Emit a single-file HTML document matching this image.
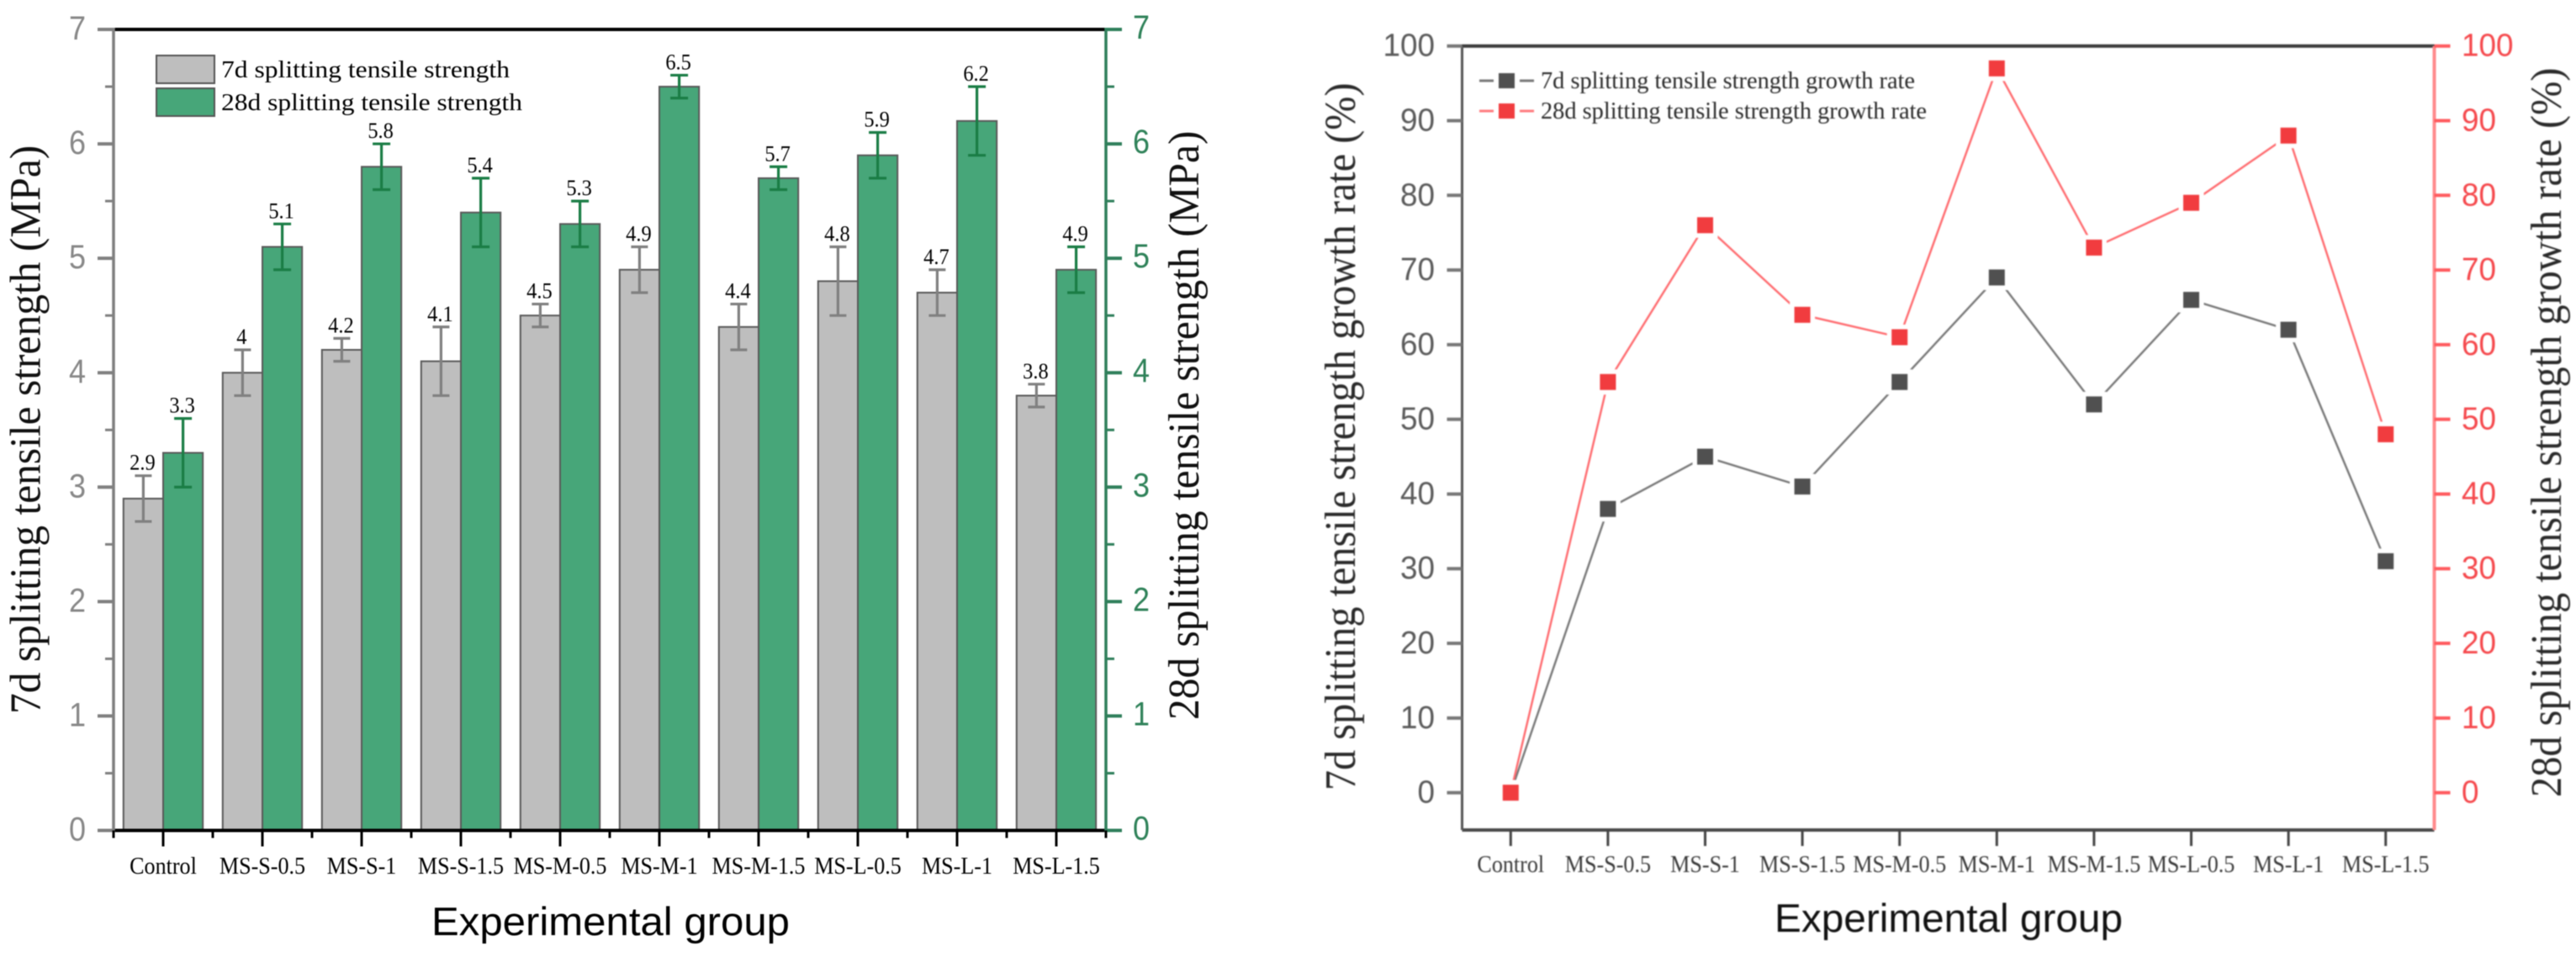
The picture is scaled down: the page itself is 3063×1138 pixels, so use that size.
<!DOCTYPE html>
<html lang="en">
<head>
<meta charset="utf-8">
<title>Splitting tensile strength charts</title>
<style>
html,body{margin:0;padding:0;background:#fff;width:3063px;height:1138px;overflow:hidden}
svg{display:block}
.serif{font-family:"Liberation Serif",serif}
.sans{font-family:"Liberation Sans",sans-serif}
</style>
</head>
<body>
<svg id="figure" xmlns="http://www.w3.org/2000/svg" width="3063" height="1138" viewBox="0 0 3063 1138">
  <rect width="3063" height="1138" fill="#fff"/>
  <g id="left-chart" style="filter:blur(0.4px)">
    <g id="left-bars"></g>
    <g id="left-axes"></g>
    <text class="serif" transform="translate(47.5,849) rotate(-90) scale(0.952,1)" font-size="52" fill="#111">7d splitting tensile strength (MPa)</text>
    <text class="serif" transform="translate(1425,856) rotate(-90) scale(0.951,1)" font-size="52" fill="#111">28d splitting tensile strength (MPa)</text>
    <text class="sans" x="513" y="1112" font-size="47" fill="#000" textLength="426" lengthAdjust="spacingAndGlyphs">Experimental group</text>
    <g>
      <rect x="186" y="66" width="69" height="33" fill="#bebebe" stroke="#555" stroke-width="2"/>
      <text class="serif" x="263" y="92" font-size="28" fill="#000" textLength="343" lengthAdjust="spacingAndGlyphs">7d splitting tensile strength</text>
      <rect x="186" y="105" width="69" height="33" fill="#47a679" stroke="#555" stroke-width="2"/>
      <text class="serif" x="263" y="131" font-size="28" fill="#000" textLength="358" lengthAdjust="spacingAndGlyphs">28d splitting tensile strength</text>
    </g>
  </g>
  <g id="right-chart" style="filter:blur(0.8px)">
    <g id="right-axes"></g>
    <g id="right-marks"></g>
    <text class="serif" transform="translate(1611,940) rotate(-90) scale(0.928,1)" font-size="52" fill="#2a2a2a">7d splitting tensile strength growth rate (%)</text>
    <text class="serif" transform="translate(3045,948) rotate(-90) scale(0.93,1)" font-size="52" fill="#2a2a2a">28d splitting tensile strength growth rate (%)</text>
    <text class="sans" x="2110" y="1108" font-size="47" fill="#111" textLength="414" lengthAdjust="spacingAndGlyphs">Experimental group</text>
    <g>
      <line x1="1759" y1="96" x2="1824" y2="96" stroke="#777" stroke-width="3"/>
      <rect x="1776" y="84" width="31" height="24" fill="#fff"/>
      <rect x="1782" y="87" width="19" height="18" fill="#505050"/>
      <text class="serif" x="1832" y="105" font-size="28" fill="#2a2a2a" textLength="445" lengthAdjust="spacingAndGlyphs">7d splitting tensile strength growth rate</text>
      <line x1="1759" y1="132" x2="1824" y2="132" stroke="#ff7a7d" stroke-width="3"/>
      <rect x="1776" y="120" width="31" height="24" fill="#fff"/>
      <rect x="1782" y="123" width="19" height="18" fill="#f13c3f"/>
      <text class="serif" x="1832" y="141" font-size="28" fill="#2a2a2a" textLength="459" lengthAdjust="spacingAndGlyphs">28d splitting tensile strength growth rate</text>
    </g>
  </g>
</svg>
<script>
const categories = ['Control','MS-S-0.5','MS-S-1','MS-S-1.5','MS-M-0.5','MS-M-1','MS-M-1.5','MS-L-0.5','MS-L-1','MS-L-1.5'];
const strength7d = [2.9,4,4.2,4.1,4.5,4.9,4.4,4.8,4.7,3.8];
const strength28d = [3.3,5.1,5.8,5.4,5.3,6.5,5.7,5.9,6.2,4.9];
const error7d = [0.2,0.2,0.1,0.3,0.1,0.2,0.2,0.3,0.2,0.1];
const error28d = [0.3,0.2,0.2,0.3,0.2,0.1,0.1,0.2,0.3,0.2];
const growth7d = [0,38,45,41,55,69,52,66,62,31];
const growth28d = [0,55,76,64,61,97,73,79,88,48];
const strengthTicks = [0,1,2,3,4,5,6,7];
const strengthMinorTicks = [0.5,1.5,2.5,3.5,4.5,5.5,6.5];
const growthTicks = [0,10,20,30,40,50,60,70,80,90,100];

const NS = 'http://www.w3.org/2000/svg';
function make(parent, tag, attrs, content) {
  const el = document.createElementNS(NS, tag);
  for (const k in attrs) el.setAttribute(k, attrs[k]);
  if (content !== undefined) el.textContent = content;
  parent.appendChild(el);
  return el;
}
function label(parent, x, y, str, size, fill, cls, anchor, sx) {
  return make(parent, 'text', {
    class: cls, 'font-size': size, fill: fill, 'text-anchor': anchor,
    transform: 'translate(' + x + ',' + y + ') scale(' + sx + ',1)'
  }, str);
}

/* ---------- left chart: bars ---------- */
const L = {left: 135, right: 1315, top: 35, bottom: 987.5};
const lx = i => L.left + (i + 0.5) * (L.right - L.left) / categories.length;
const ly = v => L.bottom - (v / 7) * (L.bottom - L.top);
const lBand = (L.right - L.left) / categories.length;
const barW = lBand * 0.4;
const lBars = document.getElementById('left-bars');
const lAxes = document.getElementById('left-axes');

function drawBar(i, v, err, offset, fill, errColor, capW) {
  const x0 = lx(i) + offset;
  const rect = make(lBars, 'rect', {x: x0, y: ly(v), width: barW, height: L.bottom - ly(v), fill: fill, stroke: '#5a5a5a', 'stroke-width': 2});
  
  
  const cx = x0 + barW / 2;
  const errGroup = make(lBars, 'g', {stroke: errColor, 'stroke-width': 3.2});
  
  
  make(errGroup, 'line', {x1: cx, x2: cx, y1: ly(v + err), y2: ly(v - err)});
  make(errGroup, 'line', {x1: cx - capW / 2, x2: cx + capW / 2, y1: ly(v + err), y2: ly(v + err)});
  make(errGroup, 'line', {x1: cx - capW / 2, x2: cx + capW / 2, y1: ly(v - err), y2: ly(v - err)});
  const value = label(lBars, cx - 1, ly(v + err) - 7, String(v), 26, '#000', 'serif', 'middle', 0.94);
  
  
}
categories.forEach((c, i) => {
  drawBar(i, strength7d[i], error7d[i], -barW, '#bebebe', '#808080', 20);
});
categories.forEach((c, i) => {
  drawBar(i, strength28d[i], error28d[i], 0, '#47a679', '#1a7d45', 21);
});

const lTop = make(lAxes, 'line', {x1: L.left, x2: L.right, y1: L.top, y2: L.top, stroke: '#000', 'stroke-width': 4});


const lBottom = make(lAxes, 'line', {x1: L.left, x2: L.right, y1: L.bottom, y2: L.bottom, stroke: '#000', 'stroke-width': 4});


const lLeft = make(lAxes, 'line', {x1: L.left, x2: L.left, y1: L.top - 2, y2: L.bottom + 2, stroke: '#808080', 'stroke-width': 3.5});


const lRight = make(lAxes, 'line', {x1: L.right, x2: L.right, y1: L.top - 2, y2: L.bottom + 2, stroke: '#2f7f5b', 'stroke-width': 3.5});



strengthTicks.forEach(t => {
  const tl = make(lAxes, 'line', {x1: L.left - 19, x2: L.left, y1: ly(t), y2: ly(t), stroke: '#808080', 'stroke-width': 4});
  
  
  const tr = make(lAxes, 'line', {x1: L.right, x2: L.right + 19, y1: ly(t), y2: ly(t), stroke: '#2f7f5b', 'stroke-width': 4});
  
  
  const a = label(lAxes, 102, ly(t) + 12, String(t), 40, '#888', 'sans', 'end', 0.9);
  
  
  const b = label(lAxes, 1347, ly(t) + 11, String(t), 40, '#2f8259', 'sans', 'start', 0.9);
  
  
});
strengthMinorTicks.forEach(t => {
  const tl = make(lAxes, 'line', {x1: L.left - 10, x2: L.left, y1: ly(t), y2: ly(t), stroke: '#808080', 'stroke-width': 3});
  
  
  const tr = make(lAxes, 'line', {x1: L.right, x2: L.right + 10, y1: ly(t), y2: ly(t), stroke: '#2f7f5b', 'stroke-width': 3});
  
  
});
categories.forEach((c, i) => {
  const t = make(lAxes, 'line', {x1: lx(i), x2: lx(i), y1: L.bottom, y2: L.bottom + 19, stroke: '#000', 'stroke-width': 3});
  
  
  const m = make(lAxes, 'line', {x1: lx(i) - lBand / 2, x2: lx(i) - lBand / 2, y1: L.bottom, y2: L.bottom + 9, stroke: '#000', 'stroke-width': 3});
  
  
  const tx = label(lAxes, lx(i), 1039, c, 29, '#000', 'serif', 'middle', 0.9);
  
  
});
const lEnd = make(lAxes, 'line', {x1: L.right, x2: L.right, y1: L.bottom, y2: L.bottom + 9, stroke: '#000', 'stroke-width': 3});



/* ---------- right chart: lines ---------- */
const R = {left: 1738.5, right: 2894.5, top: 54.7, bottom: 987};
const rx = i => R.left + (i + 0.5) * (R.right - R.left) / categories.length;
const ry = v => R.bottom - ((v + 5) / 105) * (R.bottom - R.top);
const rAxes = document.getElementById('right-axes');
const rMarks = document.getElementById('right-marks');

const rTop = make(rAxes, 'line', {x1: R.left, x2: R.right, y1: R.top, y2: R.top, stroke: '#3a3a3a', 'stroke-width': 4});


const rBottom = make(rAxes, 'line', {x1: R.left, x2: R.right, y1: R.bottom, y2: R.bottom, stroke: '#4a4a4a', 'stroke-width': 4});


const rLeft = make(rAxes, 'line', {x1: R.left, x2: R.left, y1: R.top, y2: R.bottom, stroke: '#555', 'stroke-width': 3});


const rRight = make(rAxes, 'line', {x1: R.right, x2: R.right, y1: R.top, y2: R.bottom, stroke: '#ff8a8c', 'stroke-width': 4});



growthTicks.forEach(t => {
  const tl = make(rAxes, 'line', {x1: R.left - 18, x2: R.left, y1: ry(t), y2: ry(t), stroke: '#777', 'stroke-width': 4});
  
  
  const tr = make(rAxes, 'line', {x1: R.right, x2: R.right + 19, y1: ry(t), y2: ry(t), stroke: '#ff5a5e', 'stroke-width': 4});
  
  
  const a = label(rAxes, 1706, ry(t) + 12, String(t), 38, '#5a5a5a', 'sans', 'end', 0.97);
  
  
  const b = label(rAxes, 2927, ry(t) + 12, String(t), 38, '#f5484c', 'sans', 'start', 0.97);
  
  
});
categories.forEach((c, i) => {
  const t = make(rAxes, 'line', {x1: rx(i), x2: rx(i), y1: R.bottom, y2: R.bottom + 19, stroke: '#444', 'stroke-width': 3});
  
  
  const tx = label(rAxes, rx(i), 1037, c, 29, '#3a3a3a', 'serif', 'middle', 0.9);
  
  
});

function drawSeries(values, lineColor, name) {
  const pts = values.map((v, i) => rx(i) + ',' + ry(v)).join(' ');
  const line = make(rMarks, 'polyline', {points: pts, fill: 'none', stroke: lineColor, 'stroke-width': 2.4});
  
  
}
function drawMarkers(values, markerColor, name) {
  values.forEach((v, i) => {
    const halo = make(rMarks, 'rect', {x: rx(i) - 15, y: ry(v) - 15, width: 30, height: 30, fill: '#fff'});
    
    
  });
  values.forEach((v, i) => {
    const m = make(rMarks, 'rect', {x: rx(i) - 9.5, y: ry(v) - 9.5, width: 19, height: 19, fill: markerColor});
    
    
  });
}
drawSeries(growth7d, '#777', 'growth-7d');
drawSeries(growth28d, '#ff6a6e', 'growth-28d');
drawMarkers(growth7d, '#505050', 'growth-7d');
drawMarkers(growth28d, '#f13c3f', 'growth-28d');
</script>
</body>
</html>
